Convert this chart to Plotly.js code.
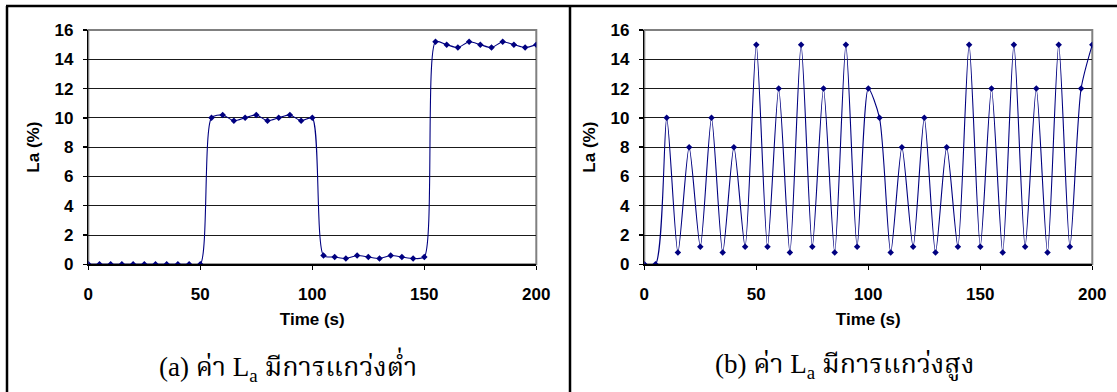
<!DOCTYPE html>
<html>
<head>
<meta charset="utf-8">
<script src="https://cdn.plot.ly/plotly-3.0.1.min.js"></script>
<style>
html,body{margin:0;padding:0;background:#fff;}
#chart{width:1117px;height:392px;}
</style>
</head>
<body>
<div id="chart"></div>
<script>
// ---- data ----
const timeA = [0,5,10,15,20,25,30,35,40,45,50,55,60,65,70,75,80,85,90,95,100,105,110,115,120,125,130,135,140,145,150,155,160,165,170,175,180,185,190,195,200];
const laLow = [0,0,0,0,0,0,0,0,0,0,0,10,10.2,9.8,10,10.2,9.8,10,10.2,9.8,10,0.6,0.5,0.4,0.6,0.5,0.4,0.6,0.5,0.4,0.5,15.2,15,14.8,15.2,15,14.8,15.2,15,14.8,15];
const timeB = [0,5,10,15,20,25,30,35,40,45,50,55,60,65,70,75,80,85,90,95,100,105,110,115,120,125,130,135,140,145,150,155,160,165,170,175,180,185,190,195,200];
const laHigh = [0,0,10,0.8,8,1.2,10,0.8,8,1.2,15,1.2,12,0.8,15,1.2,12,0.8,15,1.2,12,10,0.8,8,1.2,10,0.8,8,1.2,15,1.2,12,0.8,15,1.2,12,0.8,15,1.2,12,15];
const xTicks = [0,50,100,150,200];
const yTitle = "La (%)";
const xTitle = "Time (s)";
const captionA = "(a) ค่า L<sub>a</sub> มีการแกว่งต่ำ";
const captionB = "(b) ค่า L<sub>a</sub> มีการแกว่งสูง";

// ---- layout helpers ----
const W = 1117, H = 392;
const px = v => v / W;
const py = v => 1 - v / H;
const navy = "#000080";
const tickFont = {family: "Liberation Sans, Arial, sans-serif", size: 17, color: "#000", weight: 700};
const capFont = {family: "Liberation Serif, Times New Roman, Noto Serif Thai, serif", size: 27, color: "#000"};

function trace(x, y, xa, ya) {
  return {
    x: x, y: y, xaxis: xa, yaxis: ya, type: "scatter", mode: "lines+markers",
    line: {color: navy, width: 1.1, shape: "spline", smoothing: 0.7},
    marker: {symbol: "diamond", size: 5, color: navy},
    hoverinfo: "x+y", showlegend: false
  };
}

function xAxis(dom, anchor) {
  return {
    domain: dom, anchor: anchor, range: [0, 200], tickvals: xTicks,
    ticks: "outside", ticklen: 4, tickwidth: 1.5, tickcolor: "#000",
    showline: true, linecolor: "#000", linewidth: 1.5, showgrid: false, zeroline: false,
    tickfont: tickFont, ticklabelstandoff: 10, fixedrange: true,
    title: {text: xTitle, font: tickFont, standoff: 10}
  };
}
function yAxis(dom, anchor) {
  return {
    domain: dom, anchor: anchor, range: [0, 16], dtick: 2, tick0: 0,
    ticks: "outside", ticklen: 4, tickwidth: 1.5, tickcolor: "#000",
    showline: true, linecolor: "#000", linewidth: 1.5,
    showgrid: true, gridcolor: "#1a1a1a", gridwidth: 1, zeroline: false,
    tickfont: tickFont, ticklabelstandoff: 6, fixedrange: true,
    title: {text: yTitle, font: tickFont, standoff: 10}
  };
}

const yDom = [py(264.3), py(30)];
const layout = {
  width: W, height: H,
  margin: {l: 0, r: 0, t: 0, b: 0},
  paper_bgcolor: "#fff", plot_bgcolor: "#fff",
  xaxis: xAxis([px(88.3), px(536.3)], "y"),
  yaxis: yAxis(yDom, "x"),
  xaxis2: xAxis([px(644.3), px(1092.3)], "y2"),
  yaxis2: yAxis(yDom, "x2"),
  shapes: [
    {type: "rect", xref: "paper", yref: "paper", x0: px(88.3), x1: px(536.3), y0: yDom[0], y1: yDom[1], line: {color: "#808080", width: 2}, layer: "below"},
    {type: "rect", xref: "paper", yref: "paper", x0: px(644.3), x1: px(1092.3), y0: yDom[0], y1: yDom[1], line: {color: "#808080", width: 2}, layer: "below"},
    {type: "line", xref: "paper", yref: "paper", x0: px(6), x1: 1, y0: py(6), y1: py(6), line: {color: "#000", width: 2.5}},
    {type: "line", xref: "paper", yref: "paper", x0: px(7), x1: px(7), y0: py(6), y1: 0, line: {color: "#000", width: 2.5}},
    {type: "line", xref: "paper", yref: "paper", x0: px(570), x1: px(570), y0: py(6), y1: 0, line: {color: "#000", width: 2.5}}
  ],
  annotations: [
    {xref: "paper", yref: "paper", x: px(288), y: py(366), text: captionA, showarrow: false, xanchor: "center", yanchor: "middle", font: capFont},
    {xref: "paper", yref: "paper", x: px(844), y: py(366), text: captionB, showarrow: false, xanchor: "center", yanchor: "middle", font: capFont}
  ]
};

Plotly.newPlot("chart", [trace(timeA, laLow, "x", "y"), trace(timeB, laHigh, "x2", "y2")], layout, {staticPlot: true, displayModeBar: false});
</script>
</body>
</html>
